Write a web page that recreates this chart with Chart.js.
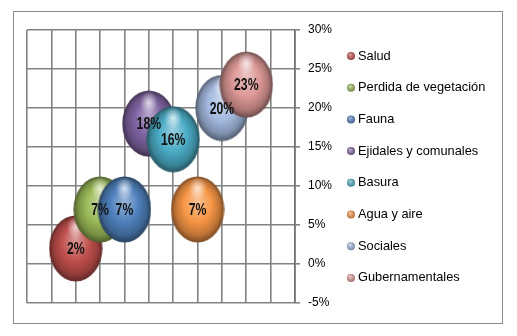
<!DOCTYPE html>
<html lang="es">
<head>
<meta charset="UTF-8">
<title>Burbujas</title>
<script src="https://cdn.jsdelivr.net/npm/chart.js"></script>
<style>
  body { margin: 0; background: #fff; }
  #wrap { position: relative; width: 517px; height: 336px; }
</style>
</head>
<body>
<div id="wrap"><canvas id="myChart" width="517" height="336"></canvas></div>
<script>
// datos
const categories = ['Salud', 'Perdida de vegetación', 'Fauna', 'Ejidales y comunales', 'Basura', 'Agua y aire', 'Sociales', 'Gubernamentales'];
const xPositions = [2, 3, 4, 5, 6, 7, 8, 9];
const values = [2, 7, 7, 18, 16, 7, 20, 23];
const colors = ['#c0504d', '#9bbb59', '#4f81bd', '#8064a2', '#4bacc6', '#f79646', '#a4badf', '#dc9896'];

const shade = (hex, f) => {
    let n = parseInt(hex.slice(1), 16);
    let r = n >> 16, g = (n >> 8) & 255, b = n & 255;
    if (f > 0) { r += (255 - r) * f; g += (255 - g) * f; b += (255 - b) * f; }
    else { r *= 1 + f; g *= 1 + f; b *= 1 + f; }
    return 'rgb(' + Math.round(r) + ',' + Math.round(g) + ',' + Math.round(b) + ')';
};

// bola con sombreado tipo 3D
const makeBall = (color, w, h) => {
    const c = document.createElement('canvas');
    c.width = w; c.height = h;
    const ctx = c.getContext('2d');
    ctx.save();
    ctx.translate(w / 2, h / 2);
    ctx.scale(w / h, 1);
    const r = h / 2 - 0.5;
    const g = ctx.createRadialGradient(0, -r * 0.3, r * 0.05, 0, 0, r);
    g.addColorStop(0, shade(color, 0.4));
    g.addColorStop(0.5, color);
    g.addColorStop(0.82, shade(color, -0.22));
    g.addColorStop(1, shade(color, -0.5));
    ctx.fillStyle = g;
    ctx.beginPath();
    ctx.arc(0, 0, r, 0, Math.PI * 2);
    ctx.fill();
    // brillo arriba
    const hl = ctx.createRadialGradient(0, -r * 0.64, 0, 0, -r * 0.64, r * 0.34);
    hl.addColorStop(0, 'rgba(255,255,255,0.75)');
    hl.addColorStop(1, 'rgba(255,255,255,0)');
    ctx.fillStyle = hl;
    ctx.beginPath();
    ctx.arc(0, -r * 0.64, r * 0.34, 0, Math.PI * 2);
    ctx.fill();
    ctx.restore();
    return c;
};

const datasets = categories.map((name, i) => ({
    label: name,
    data: [{ x: xPositions[i], y: values[i], r: 27 }],
    backgroundColor: colors[i],
    borderWidth: 0,
    pointStyle: makeBall(colors[i], 54, 67),
    order: categories.length - i
}));

const frame = {
    id: 'frame',
    beforeDraw(chart) {
        const ctx = chart.ctx;
        ctx.save();
        ctx.fillStyle = '#fff';
        ctx.fillRect(0, 0, chart.width, chart.height);
        ctx.strokeStyle = '#8a8a8a';
        ctx.lineWidth = 1;
        ctx.strokeRect(13.5, 11.5, 489, 312);
        ctx.restore();
    }
};

// etiquetas de valor, letra estrecha
const valueLabels = {
    id: 'valueLabels',
    afterDatasetsDraw(chart) {
        const ctx = chart.ctx;
        chart.data.datasets.forEach((ds, i) => {
            const el = chart.getDatasetMeta(i).data[0];
            ctx.save();
            ctx.translate(el.x, el.y + 1);
            ctx.scale(0.72, 1);
            ctx.font = 'bold 17px "Liberation Sans", Arial, sans-serif';
            ctx.fillStyle = '#111';
            ctx.textAlign = 'center';
            ctx.textBaseline = 'middle';
            ctx.fillText(values[i] + '%', 0, 0);
            ctx.restore();
        });
    }
};

const sideLegend = {
    id: 'sideLegend',
    afterDraw(chart) {
        const ctx = chart.ctx;
        ctx.save();
        ctx.font = '12.8px "Liberation Sans", Arial, sans-serif';
        ctx.textBaseline = 'middle';
        categories.forEach((name, i) => {
            const y = 56 + i * 31.7;
            const g = ctx.createRadialGradient(350, y - 1.5, 0.5, 351, y, 4.5);
            g.addColorStop(0, shade(colors[i], 0.4));
            g.addColorStop(1, shade(colors[i], -0.3));
            ctx.fillStyle = g;
            ctx.beginPath();
            ctx.arc(351, y, 4, 0, Math.PI * 2);
            ctx.fill();
            ctx.fillStyle = '#000';
            ctx.fillText(name, 358, y);
        });
        ctx.restore();
    }
};

new Chart(document.getElementById('myChart'), {
    type: 'bubble',
    data: { datasets: datasets },
    options: {
        responsive: false,
        animation: false,
        events: [],
        layout: { padding: { left: 27, top: 30, right: 184, bottom: 33 } },
        plugins: { legend: { display: false }, tooltip: { enabled: false } },
        scales: {
            x: {
                type: 'linear', min: 0, max: 11,
                ticks: { display: false, stepSize: 1 },
                grid: { color: '#828282', lineWidth: 1.6, drawTicks: false },
                border: { display: false },
                afterFit: s => { s.height = 0; }
            },
            y: {
                position: 'right', min: -5, max: 30,
                ticks: {
                    stepSize: 5, padding: 8, color: '#000',
                    font: { family: '"Liberation Sans", Arial, sans-serif', size: 12 },
                    callback: v => v + '%'
                },
                grid: { color: '#828282', lineWidth: 1.6, tickLength: 5 },
                border: { color: '#6e6e6e', width: 1.6 },
                afterFit: s => { s.width = 38; }
            }
        }
    },
    plugins: [frame, valueLabels, sideLegend]
});
</script>
</body>
</html>
